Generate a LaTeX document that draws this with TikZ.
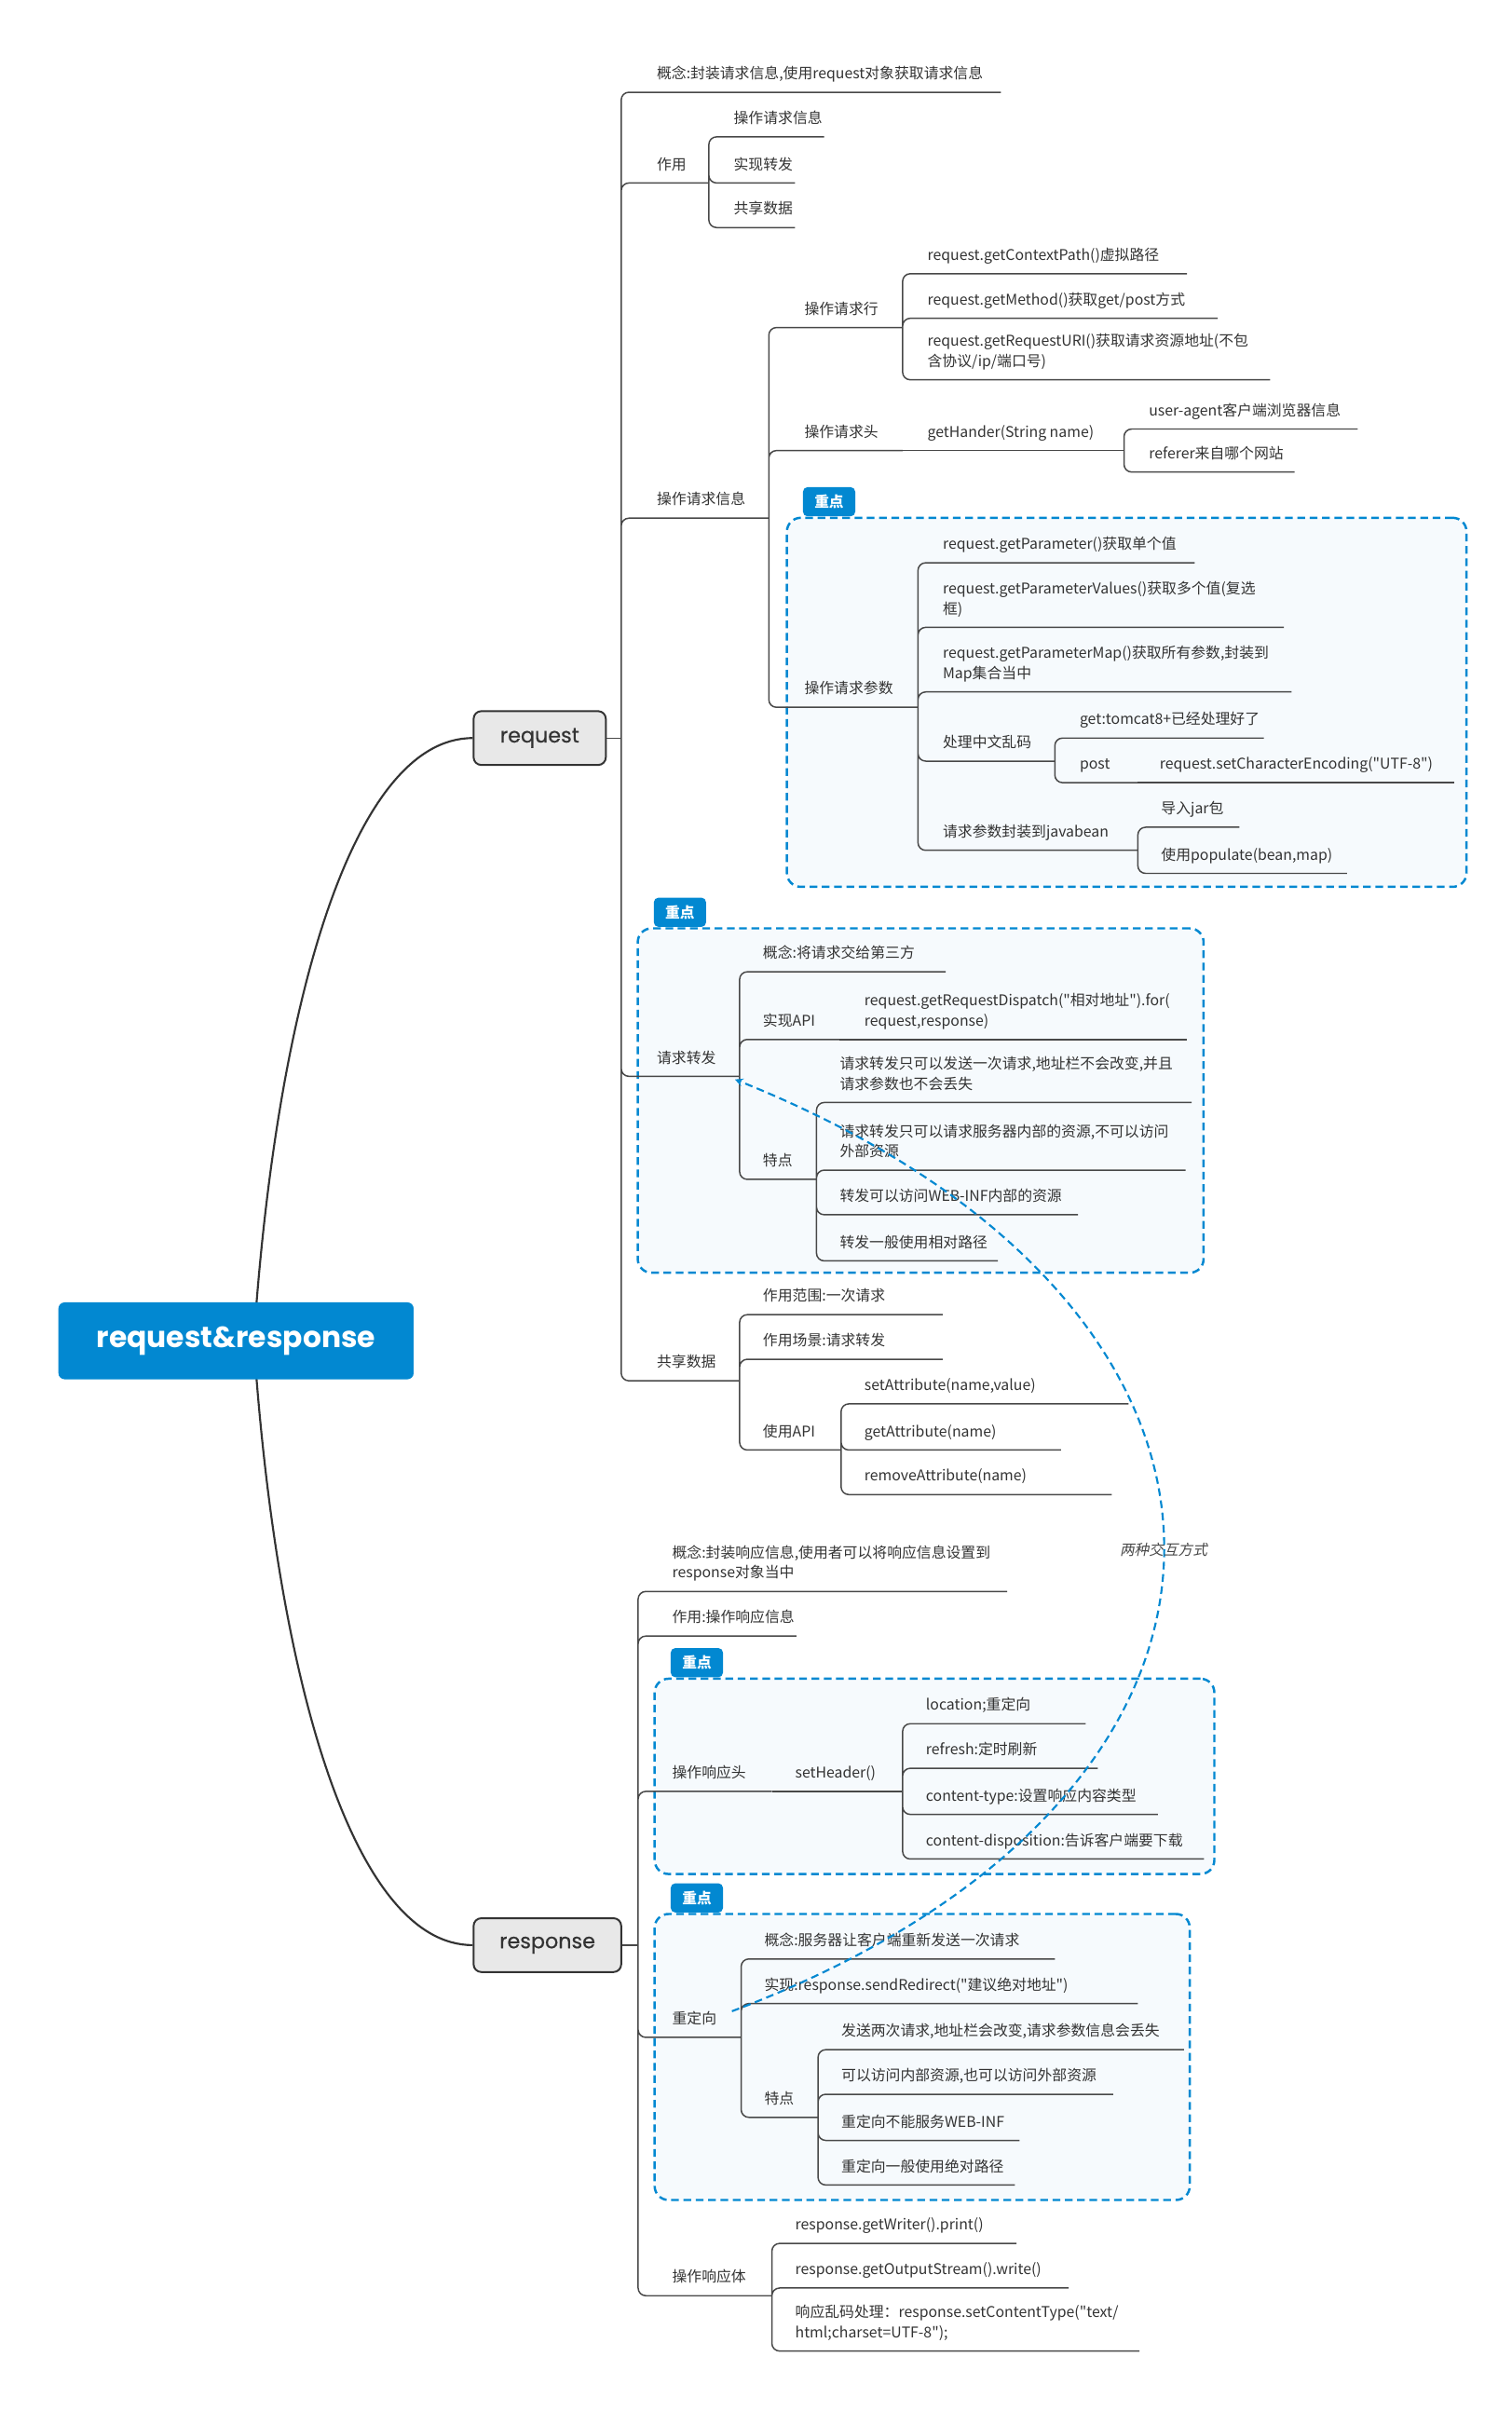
\documentclass[tikz,border=0pt]{standalone}
\usepackage{fontspec}
\setmainfont{Noto Sans CJK SC}[Ligatures=TeXOff]
\newfontfamily\slantfont{Noto Sans CJK SC}[Ligatures=TeXOff, FakeSlant=0.2]
\newfontfamily\headfont{Poppins}
\newfontfamily\midfont{Poppins}[FakeBold=0.5]
\usepackage{tikz}
\usetikzlibrary{arrows, backgrounds}
\definecolor{mmblue}{RGB}{2, 136, 209}
\definecolor{mmfill}{RGB}{246, 250, 253}
\definecolor{mmline}{RGB}{72, 72, 72}
\definecolor{mmdark}{RGB}{51, 51, 51}
\definecolor{mmtext}{RGB}{51, 51, 51}
\definecolor{mmgray}{RGB}{232, 232, 232}

\begin{document}
\begin{tikzpicture}[x=1pt, y=-1pt,
    root/.style={rectangle, rounded corners=4pt, fill=mmblue, text=white, minimum width=231pt, minimum height=50pt, font=\headfont\fontsize{19}{23}\selectfont\bfseries},
    main/.style={rectangle, rounded corners=5pt, draw=mmdark, line width=1.2pt, fill=mmgray, text=mmtext, minimum height=35pt, font=\midfont\fontsize{13.5}{16}\selectfont},
    topic/.style={anchor=south west, inner sep=0pt, yshift=6pt, align=left, text=mmtext, text depth=2.5pt, font=\fontsize{9.6}{13}\selectfont},
    link/.style={draw=mmline, line width=0.9pt, rounded corners=5pt},
    branch/.style={draw=mmdark, line width=1.3pt},
    focus/.style={draw=mmblue, fill=mmfill, line width=1.5pt, dash pattern=on 5pt off 3pt, rounded corners=9pt, anchor=north west, inner sep=0pt},
    tag/.style={fill=mmblue, text=white, rounded corners=3pt, anchor=south west, minimum width=34pt, minimum height=19pt, inner sep=0pt, font=\fontsize{9.5}{11}\selectfont\bfseries},
    relation/.style={draw=mmblue, line width=1.3pt, dash pattern=on 5pt off 3pt, ->, >=stealth}
]
    \useasboundingbox (0,0) rectangle (983,1568);

    % main topics
    \node[root] (root) at (153.5,872) {request\&response};
    \node[main, minimum width=86pt] (request) at (351,480) {request};
    \node[main, minimum width=96pt] (response) at (356,1265) {response};
    \coordinate (rootout) at (165,872);
    \coordinate (reqbar) at (404,480);
    \coordinate (resbar) at (415,1265);

    % highlighted groups
    \node[focus, minimum width=442pt, minimum height=240pt] (key1) at (511,336) {};
    \node[tag] (tag1) at ([xshift=11pt]key1.north west) {重点};
    \node[focus, minimum width=368pt, minimum height=224pt] (key2) at (414,603) {};
    \node[tag] (tag2) at ([xshift=11pt]key2.north west) {重点};
    \node[focus, minimum width=364pt, minimum height=127pt] (key3) at (425,1091) {};
    \node[tag] (tag3) at ([xshift=11pt]key3.north west) {重点};
    \node[focus, minimum width=348pt, minimum height=186pt] (key4) at (425,1244) {};
    \node[tag] (tag4) at ([xshift=11pt]key4.north west) {重点};

    % request
    \node[topic] (rq1) at (427,60) {概念:封装请求信息,使用request对象获取请求信息};
    \coordinate (rq1-e) at (651,60);
    \node[topic] (rq2) at (427,119) {作用};
    \coordinate (rq2-e) at (461,119);
    \node[topic] (zy1) at (477,89) {操作请求信息};
    \coordinate (zy1-e) at (536,89);
    \node[topic] (zy2) at (477,119) {实现转发};
    \coordinate (zy2-e) at (517,119);
    \node[topic] (zy3) at (477,148) {共享数据};
    \coordinate (zy3-e) at (517,148);

    \node[topic] (rq3) at (427,337) {操作请求信息};
    \coordinate (rq3-e) at (500,337);
    \node[topic] (hang) at (523,213) {操作请求行};
    \coordinate (hang-e) at (587,213);
    \node[topic] (hang1) at (603,178) {request.getContextPath()虚拟路径};
    \coordinate (hang1-e) at (772,178);
    \node[topic] (hang2) at (603,207) {request.getMethod()获取get/post方式};
    \coordinate (hang2-e) at (792,207);
    \node[topic] (hang3) at (603,247) {request.getRequestURI()获取请求资源地址(不包\\含协议/ip/端口号)};
    \coordinate (hang3-e) at (826,247);
    \node[topic] (tou) at (523,293) {操作请求头};
    \coordinate (tou-e) at (587,293);
    \node[topic] (gethdr) at (603,293) {getHander(String name)};
    \coordinate (gethdr-e) at (731,293);
    \node[topic] (tou1) at (747,279) {user-agent客户端浏览器信息};
    \coordinate (tou1-e) at (883,279);
    \node[topic] (tou2) at (747,307) {referer来自哪个网站};
    \coordinate (tou2-e) at (842,307);
    \node[topic] (para) at (523,460) {操作请求参数};
    \coordinate (para-e) at (597,460);
    \node[topic] (para1) at (613,366) {request.getParameter()获取单个值};
    \coordinate (para1-e) at (777,366);
    \node[topic] (para2) at (613,408) {request.getParameterValues()获取多个值(复选\\框)};
    \coordinate (para2-e) at (835,408);
    \node[topic] (para3) at (613,450) {request.getParameterMap()获取所有参数,封装到\\Map集合当中};
    \coordinate (para3-e) at (840,450);
    \node[topic] (para4) at (613,495) {处理中文乱码};
    \coordinate (para4-e) at (686,495);
    \node[topic] (cn1) at (702,480) {get:tomcat8+已经处理好了};
    \coordinate (cn1-e) at (822,480);
    \node[topic] (cn2) at (702,509) {post};
    \coordinate (cn2-e) at (740,509);
    \node[topic] (cn3) at (754,509) {request.setCharacterEncoding("UTF-8")};
    \coordinate (cn3-e) at (946,509);
    \node[topic] (para5) at (613,553) {请求参数封装到javabean};
    \coordinate (para5-e) at (740,553);
    \node[topic] (bean1) at (755,538) {导入jar包};
    \coordinate (bean1-e) at (806,538);
    \node[topic] (bean2) at (755,568) {使用populate(bean,map)};
    \coordinate (bean2-e) at (876,568);

    \node[topic] (rq4) at (427,700) {请求转发};
    \coordinate (rq4-e) at (481,700);
    \node[topic] (fw1) at (496,632) {概念:将请求交给第三方};
    \coordinate (fw1-e) at (615,632);
    \node[topic] (fw2) at (496,676) {实现API};
    \coordinate (fw2-e) at (546,676);
    \node[topic] (fw21) at (562,676) {request.getRequestDispatch("相对地址").for(\\request,response)};
    \coordinate (fw21-e) at (772,676);
    \node[topic] (fw3) at (496,767) {特点};
    \coordinate (fw3-e) at (531,767);
    \node[topic] (fw31) at (546,717) {请求转发只可以发送一次请求,地址栏不会改变,并且\\请求参数也不会丢失};
    \coordinate (fw31-e) at (775,717);
    \node[topic] (fw32) at (546,761) {请求转发只可以请求服务器内部的资源,不可以访问\\外部资源};
    \coordinate (fw32-e) at (771,761);
    \node[topic] (fw33) at (546,790) {转发可以访问WEB-INF内部的资源};
    \coordinate (fw33-e) at (701,790);
    \node[topic] (fw34) at (546,820) {转发一般使用相对路径};
    \coordinate (fw34-e) at (649,820);

    \node[topic] (rq5) at (427,898) {共享数据};
    \coordinate (rq5-e) at (481,898);
    \node[topic] (sh1) at (496,855) {作用范围:一次请求};
    \coordinate (sh1-e) at (613,855);
    \node[topic] (sh2) at (496,884) {作用场景:请求转发};
    \coordinate (sh2-e) at (613,884);
    \node[topic] (sh3) at (496,943) {使用API};
    \coordinate (sh3-e) at (547,943);
    \node[topic] (api1) at (562,913) {setAttribute(name,value)};
    \coordinate (api1-e) at (734,913);
    \node[topic] (api2) at (562,943) {getAttribute(name)};
    \coordinate (api2-e) at (690,943);
    \node[topic] (api3) at (562,972) {removeAttribute(name)};
    \coordinate (api3-e) at (723,972);

    % response
    \node[topic] (rs1) at (437,1035) {概念:封装响应信息,使用者可以将响应信息设置到\\response对象当中};
    \coordinate (rs1-e) at (655,1035);
    \node[topic] (rs2) at (437,1064) {作用:操作响应信息};
    \coordinate (rs2-e) at (518,1064);
    \node[topic] (rs3) at (437,1165) {操作响应头};
    \coordinate (rs3-e) at (502,1165);
    \node[topic] (sethdr) at (517,1165) {setHeader()};
    \coordinate (sethdr-e) at (587,1165);
    \node[topic] (hd1) at (602,1121) {location;重定向};
    \coordinate (hd1-e) at (706,1121);
    \node[topic] (hd2) at (602,1150) {refresh:定时刷新};
    \coordinate (hd2-e) at (714,1150);
    \node[topic] (hd3) at (602,1180) {content-type:设置响应内容类型};
    \coordinate (hd3-e) at (753,1180);
    \node[topic] (hd4) at (602,1209) {content-disposition:告诉客户端要下载};
    \coordinate (hd4-e) at (783,1209);

    \node[topic] (rs4) at (437,1325) {重定向};
    \coordinate (rs4-e) at (482,1325);
    \node[topic] (rd1) at (497,1274) {概念:服务器让客户端重新发送一次请求};
    \coordinate (rd1-e) at (686,1274);
    \node[topic] (rd2) at (497,1303) {实现:response.sendRedirect("建议绝对地址")};
    \coordinate (rd2-e) at (740,1303);
    \node[topic] (rd3) at (497,1377) {特点};
    \coordinate (rd3-e) at (532,1377);
    \node[topic] (rd31) at (547,1333) {发送两次请求,地址栏会改变,请求参数信息会丢失};
    \coordinate (rd31-e) at (770,1333);
    \node[topic] (rd32) at (547,1362) {可以访问内部资源,也可以访问外部资源};
    \coordinate (rd32-e) at (724,1362);
    \node[topic] (rd33) at (547,1392) {重定向不能服务WEB-INF};
    \coordinate (rd33-e) at (663,1392);
    \node[topic] (rd34) at (547,1421) {重定向一般使用绝对路径};
    \coordinate (rd34-e) at (660,1421);

    \node[topic] (rs5) at (437,1493) {操作响应体};
    \coordinate (rs5-e) at (502,1493);
    \node[topic] (body1) at (517,1459) {response.getWriter().print()};
    \coordinate (body1-e) at (661,1459);
    \node[topic] (body2) at (517,1488) {response.getOutputStream().write()};
    \coordinate (body2-e) at (695,1488);
    \node[topic] (body3) at (517,1529) {响应乱码处理：response.setContentType("text/\\html;charset=UTF-8");};
    \coordinate (body3-e) at (741,1529);

    % branches from the root
    \begin{scope}[on background layer]
        \draw[branch] (rootout) .. controls (180,650) and (230,480) .. (request.west);
        \draw[branch] (rootout) .. controls (180,1094) and (230,1265) .. (response.west);
    \end{scope}

    % request links
    \draw[link] (request.east) -- (reqbar);
    \draw[link] (reqbar) |- (rq1-e) (reqbar) |- (rq2-e) (reqbar) |- (rq3-e) (reqbar) |- (rq4-e) (reqbar) |- (rq5-e);
    \draw[link] (rq2-e) |- (zy1-e) (rq2-e) |- (zy2-e) (rq2-e) |- (zy3-e);
    \draw[link] (rq3-e) |- (hang-e) (rq3-e) |- (tou-e) (rq3-e) |- (para-e);
    \draw[link] (hang-e) |- (hang1-e) (hang-e) |- (hang2-e) (hang-e) |- (hang3-e);
    \draw[link] (tou-e) -- (gethdr-e);
    \draw[link] (gethdr-e) |- (tou1-e) (gethdr-e) |- (tou2-e);
    \draw[link] (para-e) |- (para1-e) (para-e) |- (para2-e) (para-e) |- (para3-e) (para-e) |- (para4-e) (para-e) |- (para5-e);
    \draw[link] (para4-e) |- (cn1-e) (para4-e) |- (cn2-e);
    \draw[link] (cn2-e) -- (cn3-e);
    \draw[link] (para5-e) |- (bean1-e) (para5-e) |- (bean2-e);
    \draw[link] (rq4-e) |- (fw1-e) (rq4-e) |- (fw2-e) (rq4-e) |- (fw3-e);
    \draw[link] (fw2-e) -- (fw21-e);
    \draw[link] (fw3-e) |- (fw31-e) (fw3-e) |- (fw32-e) (fw3-e) |- (fw33-e) (fw3-e) |- (fw34-e);
    \draw[link] (rq5-e) |- (sh1-e) (rq5-e) |- (sh2-e) (rq5-e) |- (sh3-e);
    \draw[link] (sh3-e) |- (api1-e) (sh3-e) |- (api2-e) (sh3-e) |- (api3-e);

    % response links
    \draw[link] (response.east) -- (resbar);
    \draw[link] (resbar) |- (rs1-e) (resbar) |- (rs2-e) (resbar) |- (rs3-e) (resbar) |- (rs4-e) (resbar) |- (rs5-e);
    \draw[link] (rs3-e) -- (sethdr-e);
    \draw[link] (sethdr-e) |- (hd1-e) (sethdr-e) |- (hd2-e) (sethdr-e) |- (hd3-e) (sethdr-e) |- (hd4-e);
    \draw[link] (rs4-e) |- (rd1-e) (rs4-e) |- (rd2-e) (rs4-e) |- (rd3-e);
    \draw[link] (rd3-e) |- (rd31-e) (rd3-e) |- (rd32-e) (rd3-e) |- (rd33-e) (rd3-e) |- (rd34-e);
    \draw[link] (rs5-e) |- (body1-e) (rs5-e) |- (body2-e) (rs5-e) |- (body3-e);

    % relation between the two ways
    \coordinate (relA) at (476,1308);
    \coordinate (relB) at (478,702);
    \draw[relation] (relA) .. controls (850,1167) and (850,851) .. node[pos=0.5, text=mmline, font=\slantfont\fontsize{9.5}{12}\selectfont] {两种交互方式} (relB);
\end{tikzpicture}
\end{document}
